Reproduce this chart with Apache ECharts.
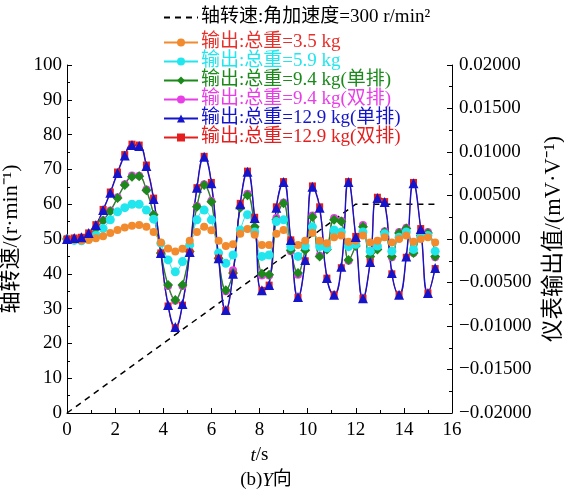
<!DOCTYPE html>
<html><head><meta charset="utf-8">
<script src="https://cdn.jsdelivr.net/npm/echarts@6/dist/echarts.min.js"></script>
<style>html,body{margin:0;padding:0;background:#fff}#c{width:564px;height:491px}</style>
</head><body><div id="c"></div>
<script>
const FONT = "'Liberation Serif','Times New Roman','Noto Sans CJK SC',serif";
const times = [0,0.3,0.6,0.9,1.2,1.5,1.8,2.1,2.4,2.7,3.0,3.3,3.6,3.9,4.2,4.5,4.8,5.1,5.4,5.7,6.0,6.3,6.6,6.9,7.2,7.5,7.8,8.1,8.4,8.7,9.0,9.3,9.6,9.9,10.2,10.5,10.8,11.1,11.4,11.7,12.0,12.3,12.6,12.9,13.2,13.5,13.8,14.1,14.4,14.7,15.0,15.3];
const speedT = [0, 12, 15.4];
const speedV = [0, 60, 60];
const out35 = [0,-0.00008,-0.00016,-0.00012,0.00008,0.00032,0.00068,0.00104,0.00132,0.00152,0.0016,0.0014,0.0008,-0.0004,-0.00108,-0.00144,-0.00112,-0.0002,0.0008,0.0014,0.001,-0.0002,-0.0008,-0.0006,0.0006,0.00116,0.00048,-0.00068,-0.00068,0.0006,0.00104,-0.0002,-0.00068,-0.0002,0.00068,-0.0002,-0.00048,0.0002,0.0004,-0.00032,-0.0002,0.0004,-0.0004,-0.0002,0.0002,-0.0004,0,0.0004,-0.00032,0,0.0002,-0.0004];
const out59 = [0,-0.00016,-0.0002,0,0.0004,0.0012,0.0022,0.00312,0.0036,0.004,0.004,0.00332,0.00228,-0.00048,-0.0024,-0.00376,-0.0026,-0.00068,0.0022,0.00332,0.0022,-0.0016,-0.0028,-0.00184,0.00104,0.0028,0.0008,-0.002,-0.00184,0.002,0.0022,-0.00088,-0.002,-0.0008,0.0014,-0.00088,-0.001,0.00104,0.0008,-0.00088,-0.0006,0.0008,-0.0014,-0.0008,0.0006,-0.0014,0.0002,0.0008,-0.0012,0.0002,0.0004,-0.0014];
const out94s = [0,0,0.00012,0.0004,0.0012,0.00212,0.0032,0.00472,0.0062,0.00716,0.0072,0.0056,0.0028,-0.0016,-0.00528,-0.007,-0.00528,-0.00144,0.00372,0.0062,0.00428,-0.0022,-0.00588,-0.00392,0.0036,0.00504,0.0014,-0.004,-0.00412,0.0022,0.00412,-0.00128,-0.00392,-0.00128,0.00252,-0.002,-0.0012,0.0022,0.002,-0.0024,-0.0008,0.0014,-0.002,-0.0012,0.0008,-0.002,0.00068,0.0012,-0.0016,0.0004,0.00068,-0.002];
const out94d = [0,0,0.00012,0.00044,0.00124,0.00216,0.00328,0.0048,0.0063,0.0073,0.00728,0.00568,0.0028,-0.0017,-0.0054,-0.0071,-0.0054,-0.0015,0.0038,0.0063,0.0044,-0.0023,-0.006,-0.0036,0.0037,0.0052,0.0013,-0.0042,-0.0042,0.0024,0.0042,-0.0014,-0.0041,-0.0011,0.0027,-0.0019,-0.001,0.0024,0.0021,-0.0025,-0.0006,0.0016,-0.0021,-0.001,0.0009,-0.0021,0.0008,0.0013,-0.0016,0.0005,0.0008,-0.0021];
const out129s = [0,0.00012,0.0002,0.00068,0.0016,0.00332,0.00532,0.0076,0.0096,0.0108,0.01068,0.0084,0.0046,-0.0016,-0.0076,-0.01012,-0.00748,-0.00148,0.00588,0.00944,0.0064,-0.0022,-0.00816,-0.004,0.004,0.00772,0.0024,-0.00588,-0.00528,0.0036,0.00656,-0.00012,-0.00668,-0.0024,0.006,0.0036,-0.00448,-0.0064,-0.0032,0.00656,0.00024,-0.0068,-0.00264,0.00472,0.00424,-0.00392,-0.0064,-0.002,0.0064,0.00116,-0.0062,-0.00332];
const out129d = [0,0.00012,0.0002,0.0007,0.00165,0.0034,0.0054,0.0077,0.0097,0.0109,0.0108,0.0085,0.0047,-0.0016,-0.0077,-0.0102,-0.0076,-0.0015,0.0059,0.0095,0.0065,-0.0022,-0.0082,-0.0041,0.0041,0.0078,0.0025,-0.0059,-0.0053,0.0037,0.0066,-0.0001,-0.0067,-0.0025,0.0061,0.0037,-0.0045,-0.0064,-0.0033,0.0066,0.0003,-0.0068,-0.0027,0.0048,0.0043,-0.004,-0.0064,-0.0021,0.0065,0.0012,-0.0062,-0.0034];
const xTicks = [0,2,4,6,8,10,12,14,16];
const leftTicks = [0,10,20,30,40,50,60,70,80,90,100];
const rightTicks = [-0.02,-0.015,-0.01,-0.005,0,0.005,0.01,0.015,0.02];

const names = {
  speed: '轴转速:角加速度=300 r/min²',
  o35: '输出:总重=3.5 kg',
  o59: '输出:总重=5.9 kg',
  o94s: '输出:总重=9.4 kg(单排)',
  o94d: '输出:总重=9.4 kg(双排)',
  o129s: '输出:总重=12.9 kg(单排)',
  o129d: '输出:总重=12.9 kg(双排)'
};
const col = {o35:'#f28a2e', o59:'#22e6ee', o94s:'#1b8a1b', o94d:'#e83ee8', o129s:'#1414cc', o129d:'#e41e1e'};
const pair = (xs, ys) => xs.map((x,i)=>[x, ys[i]]);

function outSeries(key, data, symbol, size, lw, sm) {
  return {
    name: names[key], type: 'line', yAxisIndex: 1, data: pair(times, data),
    smooth: sm, symbol: symbol, symbolSize: size, showSymbol: true,
    lineStyle: {color: col[key], width: lw}, itemStyle: {color: col[key]},
    emphasis: {disabled: true}
  };
}
const axisCommon = {
  axisLine: {show: true, onZero: false, lineStyle: {color: '#000', width: 1}},
  axisTick: {show: true, inside: true, length: 5, lineStyle: {color: '#000'}},
  minorTick: {show: true, splitNumber: 2, length: 3, lineStyle: {color: '#000'}},
  splitLine: {show: false},
  axisLabel: {color: '#000', fontFamily: FONT, fontSize: 19}
};
const chart = echarts.init(document.getElementById('c'), null, {renderer: 'canvas'});
chart.setOption({
  animation: false,
  backgroundColor: '#fff',
  title: {
    text: '(b){i|Y}向', left: 261, top: 466, textAlign: 'center',
    textStyle: {fontFamily: FONT, fontSize: 19, fontWeight: 'normal', color: '#000',
      rich: {i: {fontFamily: FONT, fontSize: 19, fontStyle: 'italic', color: '#000'}}}
  },
  grid: {left: 67, right: 112, top: 65, bottom: 78, containLabel: false, outerBoundsMode: 'none'},
  legend: [{
    data: [{name: names.speed, itemStyle: {opacity: 0}}], left: 163, top: 8, padding: 0,
    orient: 'vertical', itemWidth: 34, itemHeight: 10,
    textStyle: {fontFamily: FONT, fontSize: 19, color: '#000', padding: [0,0,0,-2]}
  }, {
    data: [
      {name: names.o35, textStyle: {color: '#e8302a'}},
      {name: names.o59, textStyle: {color: col.o59}},
      {name: names.o94s, textStyle: {color: col.o94s}},
      {name: names.o94d, textStyle: {color: col.o94d}},
      {name: names.o129s, textStyle: {color: col.o129s}},
      {name: names.o129d, textStyle: {color: col.o129d}}
    ],
    left: 163, top: 33, padding: 0, orient: 'vertical', itemGap: 0, itemWidth: 34, itemHeight: 10,
    textStyle: {fontFamily: FONT, fontSize: 19, lineHeight: 18.7, padding: [0,0,0,-2]}
  }],
  xAxis: Object.assign({}, axisCommon, {
    type: 'value', min: xTicks[0], max: xTicks[xTicks.length-1], interval: 2,
    name: '{i|t}/s', nameLocation: 'middle', nameGap: 33,
    nameTextStyle: {fontFamily: FONT, fontSize: 19, color: '#000',
      rich: {i: {fontFamily: FONT, fontSize: 19, fontStyle: 'italic', color: '#000'}}},
    axisLabel: Object.assign({}, axisCommon.axisLabel, {margin: 8})
  }),
  yAxis: [
    Object.assign({}, axisCommon, {
      type: 'value', position: 'left', min: leftTicks[0], max: leftTicks[leftTicks.length-1], interval: 10,
      name: '轴转速/(r·min⁻¹)', nameLocation: 'middle', nameGap: 34, nameRotate: 90,
      nameTextStyle: {fontFamily: FONT, fontSize: 22, color: '#000'},
      axisLabel: Object.assign({}, axisCommon.axisLabel, {margin: 5})
    }),
    Object.assign({}, axisCommon, {
      type: 'value', position: 'right', min: rightTicks[0], max: rightTicks[rightTicks.length-1], interval: 0.005,
      name: '仪表输出值/(mV·V⁻¹)', nameLocation: 'middle', nameGap: 80, nameRotate: 90,
      nameTextStyle: {fontFamily: FONT, fontSize: 22.5, color: '#000'},
      axisLabel: Object.assign({}, axisCommon.axisLabel, {margin: 7,
        formatter: v => (v < 0 ? '\u2212' : '') + Math.abs(v).toFixed(5)})
    })
  ],
  series: [
    {
      name: names.speed, type: 'line', yAxisIndex: 0, data: pair(speedT, speedV),
      symbol: 'none', lineStyle: {color: '#000', width: 1.5, type: [6, 5]}, itemStyle: {color: '#000'},
      emphasis: {disabled: true}
    },
    outSeries('o94d', out94d, 'circle', 8, 1, 0.4),
    outSeries('o94s', out94s, 'diamond', 10, 1.2, 0.4),
    outSeries('o59', out59, 'circle', 9, 1, 0.4),
    outSeries('o35', out35, 'circle', 8, 1, 0.4),
    outSeries('o129d', out129d, 'rect', 7, 1, 0.5),
    outSeries('o129s', out129s, 'triangle', 10, 1.4, 0.5)
  ]
});
</script></body></html>
